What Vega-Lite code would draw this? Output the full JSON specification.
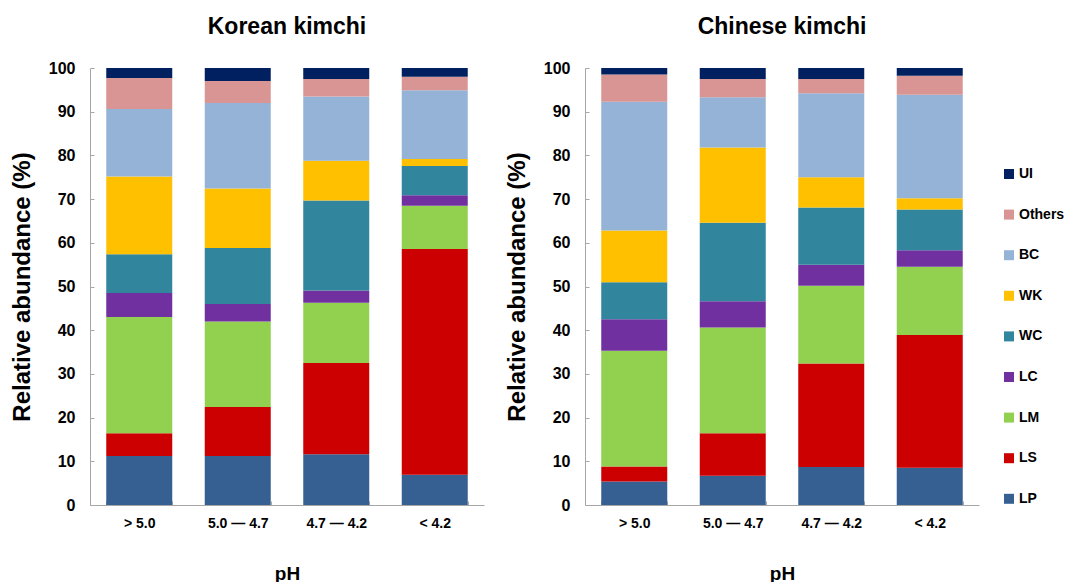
{
  "$schema": "https://vega.github.io/schema/vega-lite/v6.json",
  "padding": {"left": 10, "top": 16, "right": 5, "bottom": 0},
  "background": "white",
  "config": {
    "font": "Liberation Sans",
    "view": {"stroke": null},
    "axis": {"grid": false, "domainColor": "#a6a6a6", "tickColor": "#a6a6a6", "labelFontWeight": "bold", "titleFontWeight": "bold", "labelColor": "#000000", "titleColor": "#000000"},
    "concat": {"spacing": 21}
  },
  "data": {
    "values": [
      {"panel": "Korean", "ph": "> 5.0", "taxon": "LP", "ord": 1, "value": 11.2},
      {"panel": "Korean", "ph": "> 5.0", "taxon": "LS", "ord": 2, "value": 5.2},
      {"panel": "Korean", "ph": "> 5.0", "taxon": "LM", "ord": 3, "value": 26.6},
      {"panel": "Korean", "ph": "> 5.0", "taxon": "LC", "ord": 4, "value": 5.5},
      {"panel": "Korean", "ph": "> 5.0", "taxon": "WC", "ord": 5, "value": 8.9},
      {"panel": "Korean", "ph": "> 5.0", "taxon": "WK", "ord": 6, "value": 17.8},
      {"panel": "Korean", "ph": "> 5.0", "taxon": "BC", "ord": 7, "value": 15.4},
      {"panel": "Korean", "ph": "> 5.0", "taxon": "Others", "ord": 8, "value": 7.1},
      {"panel": "Korean", "ph": "> 5.0", "taxon": "UI", "ord": 9, "value": 2.3},
      {"panel": "Korean", "ph": "5.0 — 4.7", "taxon": "LP", "ord": 1, "value": 11.2},
      {"panel": "Korean", "ph": "5.0 — 4.7", "taxon": "LS", "ord": 2, "value": 11.2},
      {"panel": "Korean", "ph": "5.0 — 4.7", "taxon": "LM", "ord": 3, "value": 19.6},
      {"panel": "Korean", "ph": "5.0 — 4.7", "taxon": "LC", "ord": 4, "value": 4.0},
      {"panel": "Korean", "ph": "5.0 — 4.7", "taxon": "WC", "ord": 5, "value": 12.8},
      {"panel": "Korean", "ph": "5.0 — 4.7", "taxon": "WK", "ord": 6, "value": 13.6},
      {"panel": "Korean", "ph": "5.0 — 4.7", "taxon": "BC", "ord": 7, "value": 19.6},
      {"panel": "Korean", "ph": "5.0 — 4.7", "taxon": "Others", "ord": 8, "value": 5.0},
      {"panel": "Korean", "ph": "5.0 — 4.7", "taxon": "UI", "ord": 9, "value": 3.0},
      {"panel": "Korean", "ph": "4.7 — 4.2", "taxon": "LP", "ord": 1, "value": 11.6},
      {"panel": "Korean", "ph": "4.7 — 4.2", "taxon": "LS", "ord": 2, "value": 20.9},
      {"panel": "Korean", "ph": "4.7 — 4.2", "taxon": "LM", "ord": 3, "value": 13.8},
      {"panel": "Korean", "ph": "4.7 — 4.2", "taxon": "LC", "ord": 4, "value": 2.8},
      {"panel": "Korean", "ph": "4.7 — 4.2", "taxon": "WC", "ord": 5, "value": 20.6},
      {"panel": "Korean", "ph": "4.7 — 4.2", "taxon": "WK", "ord": 6, "value": 9.1},
      {"panel": "Korean", "ph": "4.7 — 4.2", "taxon": "BC", "ord": 7, "value": 14.7},
      {"panel": "Korean", "ph": "4.7 — 4.2", "taxon": "Others", "ord": 8, "value": 4.0},
      {"panel": "Korean", "ph": "4.7 — 4.2", "taxon": "UI", "ord": 9, "value": 2.5},
      {"panel": "Korean", "ph": "< 4.2", "taxon": "LP", "ord": 1, "value": 6.9},
      {"panel": "Korean", "ph": "< 4.2", "taxon": "LS", "ord": 2, "value": 51.7},
      {"panel": "Korean", "ph": "< 4.2", "taxon": "LM", "ord": 3, "value": 9.9},
      {"panel": "Korean", "ph": "< 4.2", "taxon": "LC", "ord": 4, "value": 2.4},
      {"panel": "Korean", "ph": "< 4.2", "taxon": "WC", "ord": 5, "value": 6.7},
      {"panel": "Korean", "ph": "< 4.2", "taxon": "WK", "ord": 6, "value": 1.6},
      {"panel": "Korean", "ph": "< 4.2", "taxon": "BC", "ord": 7, "value": 15.7},
      {"panel": "Korean", "ph": "< 4.2", "taxon": "Others", "ord": 8, "value": 3.1},
      {"panel": "Korean", "ph": "< 4.2", "taxon": "UI", "ord": 9, "value": 2.0},
      {"panel": "Chinese", "ph": "> 5.0", "taxon": "LP", "ord": 1, "value": 5.4},
      {"panel": "Chinese", "ph": "> 5.0", "taxon": "LS", "ord": 2, "value": 3.4},
      {"panel": "Chinese", "ph": "> 5.0", "taxon": "LM", "ord": 3, "value": 26.5},
      {"panel": "Chinese", "ph": "> 5.0", "taxon": "LC", "ord": 4, "value": 7.2},
      {"panel": "Chinese", "ph": "> 5.0", "taxon": "WC", "ord": 5, "value": 8.5},
      {"panel": "Chinese", "ph": "> 5.0", "taxon": "WK", "ord": 6, "value": 11.8},
      {"panel": "Chinese", "ph": "> 5.0", "taxon": "BC", "ord": 7, "value": 29.5},
      {"panel": "Chinese", "ph": "> 5.0", "taxon": "Others", "ord": 8, "value": 6.2},
      {"panel": "Chinese", "ph": "> 5.0", "taxon": "UI", "ord": 9, "value": 1.5},
      {"panel": "Chinese", "ph": "5.0 — 4.7", "taxon": "LP", "ord": 1, "value": 6.7},
      {"panel": "Chinese", "ph": "5.0 — 4.7", "taxon": "LS", "ord": 2, "value": 9.7},
      {"panel": "Chinese", "ph": "5.0 — 4.7", "taxon": "LM", "ord": 3, "value": 24.2},
      {"panel": "Chinese", "ph": "5.0 — 4.7", "taxon": "LC", "ord": 4, "value": 6.0},
      {"panel": "Chinese", "ph": "5.0 — 4.7", "taxon": "WC", "ord": 5, "value": 18.0},
      {"panel": "Chinese", "ph": "5.0 — 4.7", "taxon": "WK", "ord": 6, "value": 17.2},
      {"panel": "Chinese", "ph": "5.0 — 4.7", "taxon": "BC", "ord": 7, "value": 11.5},
      {"panel": "Chinese", "ph": "5.0 — 4.7", "taxon": "Others", "ord": 8, "value": 4.2},
      {"panel": "Chinese", "ph": "5.0 — 4.7", "taxon": "UI", "ord": 9, "value": 2.5},
      {"panel": "Chinese", "ph": "4.7 — 4.2", "taxon": "LP", "ord": 1, "value": 8.7},
      {"panel": "Chinese", "ph": "4.7 — 4.2", "taxon": "LS", "ord": 2, "value": 23.7},
      {"panel": "Chinese", "ph": "4.7 — 4.2", "taxon": "LM", "ord": 3, "value": 17.8},
      {"panel": "Chinese", "ph": "4.7 — 4.2", "taxon": "LC", "ord": 4, "value": 4.8},
      {"panel": "Chinese", "ph": "4.7 — 4.2", "taxon": "WC", "ord": 5, "value": 13.1},
      {"panel": "Chinese", "ph": "4.7 — 4.2", "taxon": "WK", "ord": 6, "value": 6.9},
      {"panel": "Chinese", "ph": "4.7 — 4.2", "taxon": "BC", "ord": 7, "value": 19.2},
      {"panel": "Chinese", "ph": "4.7 — 4.2", "taxon": "Others", "ord": 8, "value": 3.3},
      {"panel": "Chinese", "ph": "4.7 — 4.2", "taxon": "UI", "ord": 9, "value": 2.5},
      {"panel": "Chinese", "ph": "< 4.2", "taxon": "LP", "ord": 1, "value": 8.5},
      {"panel": "Chinese", "ph": "< 4.2", "taxon": "LS", "ord": 2, "value": 30.4},
      {"panel": "Chinese", "ph": "< 4.2", "taxon": "LM", "ord": 3, "value": 15.6},
      {"panel": "Chinese", "ph": "< 4.2", "taxon": "LC", "ord": 4, "value": 3.8},
      {"panel": "Chinese", "ph": "< 4.2", "taxon": "WC", "ord": 5, "value": 9.3},
      {"panel": "Chinese", "ph": "< 4.2", "taxon": "WK", "ord": 6, "value": 2.6},
      {"panel": "Chinese", "ph": "< 4.2", "taxon": "BC", "ord": 7, "value": 23.7},
      {"panel": "Chinese", "ph": "< 4.2", "taxon": "Others", "ord": 8, "value": 4.3},
      {"panel": "Chinese", "ph": "< 4.2", "taxon": "UI", "ord": 9, "value": 1.8}
    ]
  },
  "hconcat": [
    {
      "title": {"text": "Korean kimchi", "fontSize": 23, "fontWeight": "bold", "offset": 21, "color": "#000000"},
      "width": 394,
      "height": 437,
      "transform": [{"filter": "datum.panel === 'Korean'"}],
      "mark": {"type": "bar"},
      "encoding": {
        "x": {"field": "ph", "type": "nominal", "sort": ["> 5.0", "5.0 — 4.7", "4.7 — 4.2", "< 4.2"], "scale": {"paddingInner": 0.33, "paddingOuter": 0.165},
          "axis": {"title": "pH", "titleFontSize": 19, "titlePadding": 34, "labelFontSize": 14, "labelAngle": 0, "tickBand": "extent", "tickSize": -4, "labelPadding": 15}},
        "y": {"field": "value", "type": "quantitative", "stack": "zero", "scale": {"domain": [0, 100]},
          "axis": {"title": "Relative abundance (%)", "titleFontSize": 24, "titlePadding": 14, "labelFontSize": 16, "values": [0, 10, 20, 30, 40, 50, 60, 70, 80, 90, 100], "tickSize": -4, "labelPadding": 19}},
        "color": {"field": "taxon", "type": "nominal",
          "scale": {"domain": ["UI", "Others", "BC", "WK", "WC", "LC", "LM", "LS", "LP"], "range": ["#002060", "#D99594", "#95B3D7", "#FFC000", "#31859C", "#7030A0", "#92D050", "#CC0000", "#376092"]},
          "legend": {"title": " ", "titleFontSize": 2, "titlePadding": 97, "orient": "right", "offset": 23, "symbolType": "square", "symbolSize": 100, "symbolStrokeWidth": 0, "labelFontSize": 14, "labelFontWeight": "bold", "labelColor": "#000000", "rowPadding": 26.6, "labelOffset": 3}},
        "order": {"field": "ord", "type": "quantitative", "sort": "ascending"}
      }
    },
    {
      "title": {"text": "Chinese kimchi", "fontSize": 23, "fontWeight": "bold", "offset": 21, "color": "#000000"},
      "width": 394,
      "height": 437,
      "transform": [{"filter": "datum.panel === 'Chinese'"}],
      "mark": {"type": "bar"},
      "encoding": {
        "x": {"field": "ph", "type": "nominal", "sort": ["> 5.0", "5.0 — 4.7", "4.7 — 4.2", "< 4.2"], "scale": {"paddingInner": 0.33, "paddingOuter": 0.165},
          "axis": {"title": "pH", "titleFontSize": 19, "titlePadding": 34, "labelFontSize": 14, "labelAngle": 0, "tickBand": "extent", "tickSize": -4, "labelPadding": 15}},
        "y": {"field": "value", "type": "quantitative", "stack": "zero", "scale": {"domain": [0, 100]},
          "axis": {"title": "Relative abundance (%)", "titleFontSize": 24, "titlePadding": 14, "labelFontSize": 16, "values": [0, 10, 20, 30, 40, 50, 60, 70, 80, 90, 100], "tickSize": -4, "labelPadding": 19}},
        "color": {"field": "taxon", "type": "nominal"},
        "order": {"field": "ord", "type": "quantitative", "sort": "ascending"}
      }
    }
  ]
}
